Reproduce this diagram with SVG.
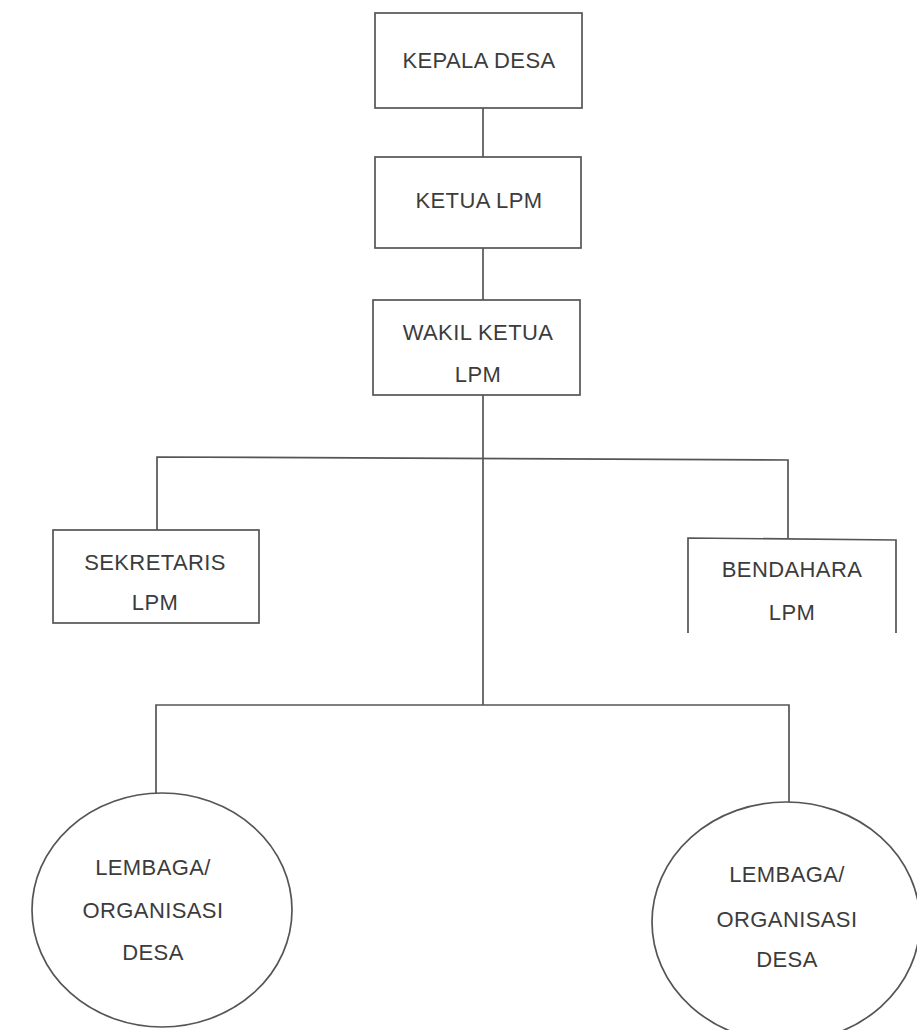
<svg xmlns="http://www.w3.org/2000/svg" width="917" height="1030" viewBox="0 0 917 1030">
<style>
.box{fill:#fff;stroke:#555;stroke-width:1.7}
.ln{fill:none;stroke:#555;stroke-width:1.7}
text{font-family:"Liberation Sans",Arial,sans-serif;font-size:22px;fill:#3c3c3c;text-anchor:middle;letter-spacing:0.4px}
</style>
<rect width="917" height="1030" fill="#fff"/>
<g id="connectors">
<line class="ln" x1="483" y1="108" x2="483" y2="157"/>
<line class="ln" x1="483" y1="248" x2="483" y2="300"/>
<line class="ln" x1="483" y1="395" x2="483" y2="705"/>
<polyline class="ln" points="157,530 157,457 788,460 788,538"/>
<polyline class="ln" points="156,793 156,705 789,705 789,802"/>
</g>
<g id="kepala-desa">
<rect class="box" x="375" y="13" width="207" height="95"/>
<text x="479" y="68">KEPALA DESA</text>
</g>
<g id="ketua-lpm">
<rect class="box" x="375" y="157" width="206" height="91"/>
<text x="479" y="208">KETUA LPM</text>
</g>
<g id="wakil-ketua-lpm">
<rect class="box" x="373" y="300" width="207" height="95"/>
<text x="478" y="340">WAKIL KETUA</text>
<text x="478" y="382">LPM</text>
</g>
<g id="sekretaris-lpm">
<rect class="box" x="53" y="530" width="206" height="93"/>
<text x="155" y="570">SEKRETARIS</text>
<text x="155" y="610">LPM</text>
</g>
<g id="bendahara-lpm">
<path class="ln" d="M688,633 L688,538 L896,540 L896,633"/>
<text x="792" y="577">BENDAHARA</text>
<text x="792" y="620">LPM</text>
</g>
<g id="lembaga-kiri">
<ellipse class="box" cx="162" cy="910" rx="130" ry="117"/>
<text x="153" y="875">LEMBAGA/</text>
<text x="153" y="918">ORGANISASI</text>
<text x="153" y="960">DESA</text>
</g>
<g id="lembaga-kanan">
<ellipse class="box" cx="786" cy="922" rx="134" ry="120"/>
<text x="787" y="882">LEMBAGA/</text>
<text x="787" y="927">ORGANISASI</text>
<text x="787" y="967">DESA</text>
</g>
</svg>
